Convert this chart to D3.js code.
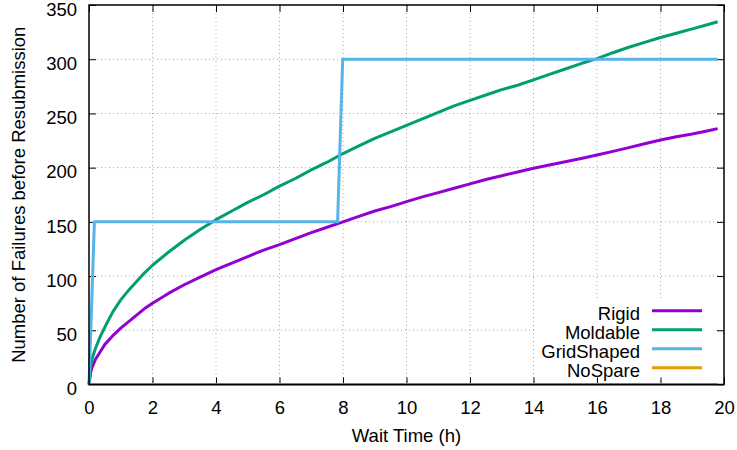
<!DOCTYPE html>
<html>
<head>
<meta charset="utf-8">
<script src="https://cdn.jsdelivr.net/npm/d3@7"></script>
<style>
  body { margin: 0; background: #fff; }
  svg { display: block; font-family: "Liberation Sans", Arial, sans-serif; }
</style>
</head>
<body>
<svg id="chart" width="737" height="450"></svg>
<script>
// data (x = wait time in hours)
const rigidX = [0, 0.05, 0.1, 0.2, 0.35, 0.5, 0.75, 1, 1.25, 1.5, 1.75, 2, 2.5, 3, 3.5, 4, 4.5, 5, 5.5, 6, 6.5, 7, 7.5, 8, 8.5, 9, 9.5, 10, 10.5, 11, 11.5, 12, 12.5, 13, 13.5, 14, 14.5, 15, 15.5, 16, 16.5, 17, 17.5, 18, 18.5, 19, 19.5, 19.8];
const rigidY = [0, 11, 16, 23, 30, 37, 45, 52, 58, 64, 70, 75, 84, 92, 99, 106, 112, 118, 124, 129, 134.5, 140, 145, 150, 155, 160, 164, 168.6, 173, 177, 181, 185, 189, 192.5, 196, 199.5, 202.5, 205.5, 208.5, 211.7, 215, 218.5, 222, 225.5, 228.5, 231, 234, 236];

const moldableX = rigidX;
const moldableY = [0, 16, 24, 33, 44, 53, 67, 78, 87, 95, 103, 110, 122, 133, 143, 152, 160, 168, 175, 183, 190, 198, 205, 213, 220, 227, 233, 239, 245, 251, 257, 262, 267, 272, 276, 281, 286, 291, 296, 300.5, 306, 311, 315.5, 320, 324, 328, 332, 334.5];

const gridX = [0, 0.17, 7.83, 7.99, 19.8];
const gridY = [0, 150, 150, 300, 300];

const noSpareX = [0, 19.8];
const noSpareY = [0, 0];

const seriesNames = ["Rigid", "Moldable", "GridShaped", "NoSpare"];
const seriesColors = ["#9400d3", "#009e73", "#56b4e9", "#e69f00"];
const xTicks = [0, 2, 4, 6, 8, 10, 12, 14, 16, 18, 20];
const yTicks = [0, 50, 100, 150, 200, 250, 300, 350];

const pLeft = 89, pRight = 724, pTop = 5, pBottom = 384.5;
const fs = 18.5;

const svg = d3.select("#chart");

const x = d3.scaleLinear().domain([0, 20]).range([pLeft, pRight]);
const y = d3.scaleLinear().domain([0, 350]).range([pBottom, pTop]);

let zip = (xs, ys) => xs.map((v, i) => [v, ys[i]]);
const series = [
  zip(rigidX, rigidY),
  zip(moldableX, moldableY),
  zip(gridX, gridY),
  zip(noSpareX, noSpareY)
];

// grid
const grid = svg.append("g").attr("stroke", "#a8a8a8").attr("stroke-width", 1).attr("stroke-dasharray", "1,3");
grid.selectAll(".gx").data(xTicks.slice(1, -1)).enter().append("line")
  .attr("x1", d => x(d)).attr("x2", d => x(d))
  .attr("y1", pTop).attr("y2", pBottom);
grid.selectAll(".gy").data(yTicks.slice(1, -1)).enter().append("line")
  .attr("x1", pLeft).attr("x2", pRight)
  .attr("y1", d => y(d)).attr("y2", d => y(d));

// opaque key background
const keyBox = { x0: 535, x1: 716, y0: 299, y1: 381 };
svg.append("rect")
  .attr("x", keyBox.x0).attr("y", keyBox.y0)
  .attr("width", keyBox.x1 - keyBox.x0).attr("height", keyBox.y1 - keyBox.y0)
  .attr("fill", "#fff");

// axes (ticks inward, mirrored)
const tl = 7;
svg.append("g").attr("transform", `translate(0,${pBottom})`)
  .call(d3.axisBottom(x).tickValues(xTicks).tickSizeInner(-tl).tickSizeOuter(0).tickPadding(16))
  .call(g => g.select(".domain").remove());
svg.append("g").attr("transform", `translate(0,${pTop})`)
  .call(d3.axisTop(x).tickValues(xTicks).tickSizeInner(-tl).tickSizeOuter(0).tickFormat(""))
  .call(g => g.select(".domain").remove());
svg.append("g").attr("transform", `translate(${pLeft},0)`)
  .call(d3.axisLeft(y).tickValues(yTicks).tickSizeInner(-tl).tickSizeOuter(0).tickPadding(12))
  .call(g => g.select(".domain").remove())
  .call(g => g.selectAll("text").attr("dy", "0.55em"));
svg.append("g").attr("transform", `translate(${pRight},0)`)
  .call(d3.axisRight(y).tickValues(yTicks).tickSizeInner(-tl).tickSizeOuter(0).tickFormat(""))
  .call(g => g.select(".domain").remove());

svg.selectAll(".tick line").attr("stroke", "#000").attr("stroke-width", 1);
svg.selectAll(".tick text")
  .attr("font-family", "Liberation Sans, Arial, sans-serif")
  .attr("font-size", fs).attr("fill", "#000");

// lines
const line = d3.line().x(d => x(d[0])).y(d => y(d[1]));
series.forEach((s, i) => {
  svg.append("path")
    .datum(s)
    .attr("d", line)
    .attr("fill", "none")
    .attr("stroke", seriesColors[i])
    .attr("stroke-width", 3)
    .attr("stroke-linejoin", "round");
});

// frame
svg.append("rect")
  .attr("x", pLeft).attr("y", pTop)
  .attr("width", pRight - pLeft).attr("height", pBottom - pTop)
  .attr("fill", "none").attr("stroke", "#000").attr("stroke-width", 1.5);

// legend
const keyRows = [310.7, 329.7, 348.7, 367.7];
const legend = svg.append("g");
seriesNames.forEach((name, i) => {
  legend.append("text")
    .attr("x", 640).attr("y", keyRows[i] + 9)
    .attr("text-anchor", "end")
    .attr("font-size", fs)
    .text(name);
  legend.append("line")
    .attr("x1", 652).attr("x2", 702)
    .attr("y1", keyRows[i]).attr("y2", keyRows[i])
    .attr("stroke", seriesColors[i]).attr("stroke-width", 3);
});

// axis titles
svg.append("text")
  .attr("x", (pLeft + pRight) / 2).attr("y", 441.5)
  .attr("text-anchor", "middle").attr("font-size", fs)
  .text("Wait Time (h)");
svg.append("text")
  .attr("transform", `translate(25,${(pTop + pBottom) / 2}) rotate(-90)`)
  .attr("text-anchor", "middle").attr("font-size", fs)
  .text("Number of Failures before Resubmission");
</script>
</body>
</html>
